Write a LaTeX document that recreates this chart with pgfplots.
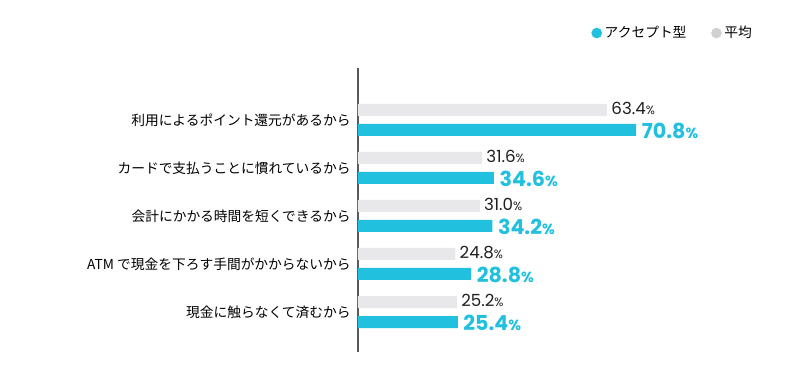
\documentclass[border=0pt]{standalone}
\usepackage{pgfplots}
\pgfplotsset{compat=1.18}
\usepackage{fontspec}
\setmainfont{Noto Sans CJK JP}
\newfontfamily\numfont{Poppins}
\definecolor{cy}{HTML}{22C0DF}
\definecolor{gy}{HTML}{E8E8EA}
\begin{document}
\begin{tikzpicture}
\path[use as bounding box] (0pt,0pt) rectangle (600.75pt,288pt);
\begin{axis}[
 at={(268.5pt,24pt)}, anchor=south west,
 scale only axis, width=294.75pt, height=213pt,
 xmin=0, xmax=100, ymin=-0.833, ymax=5.083,
 xbar, bar width=9pt,
 axis x line=none, axis y line=left,
 y axis line style={-, draw=black!65, line width=0.8pt},
 ytick={0,1,2,3,4},
 yticklabels={現金に触らなくて済むから,ATM で現金を下ろす手間がかからないから,会計にかかる時間を短くできるから,カードで支払うことに慣れているから,利用によるポイント還元があるから},
 major tick length=0pt,
 yticklabel style={font=\fontsize{10.3}{12}\selectfont, xshift=-2pt},
 point meta=x,
 /pgf/number format/assume math mode=true,
 legend columns=2,
 legend style={draw=none, fill=none, at={(1.020,1.123)}, anchor=east, font=\fontsize{10.3}{12}\selectfont, /tikz/every even column/.append style={column sep=16.5pt}},
]
\addplot[fill=cy, draw=none, bar shift=-7.5pt,
 legend image code/.code={\fill[cy] (0.3cm,0) circle (4pt);},
 nodes near coords={\pgfmathprintnumber[fixed,fixed zerofill,precision=1]{\pgfplotspointmeta}{\fontsize{11}{11}\selectfont\%}},
 nodes near coords style={font=\numfont\fontsize{15.5}{15.5}\bfseries\selectfont, text=cy, anchor=west, inner sep=0pt, xshift=4pt, yshift=-1pt}]
 coordinates {(70.8,4) (34.6,3) (34.2,2) (28.8,1) (25.4,0)};
\addlegendentry{アクセプト型}
\addplot[fill=gy, draw=none, bar shift=7.5pt,
 legend image code/.code={\fill[gy!90!black] (0.3cm,0) circle (4pt);},
 nodes near coords={\pgfmathprintnumber[fixed,fixed zerofill,precision=1]{\pgfplotspointmeta}{\fontsize{9}{9}\selectfont\%}},
 nodes near coords style={font=\numfont\fontsize{12.5}{12.5}\selectfont, text=black!88, anchor=west, inner sep=0pt, xshift=3pt, yshift=1pt}]
 coordinates {(63.4,4) (31.6,3) (31.0,2) (24.8,1) (25.2,0)};
\addlegendentry{平均}
\end{axis}
\end{tikzpicture}
\end{document}
